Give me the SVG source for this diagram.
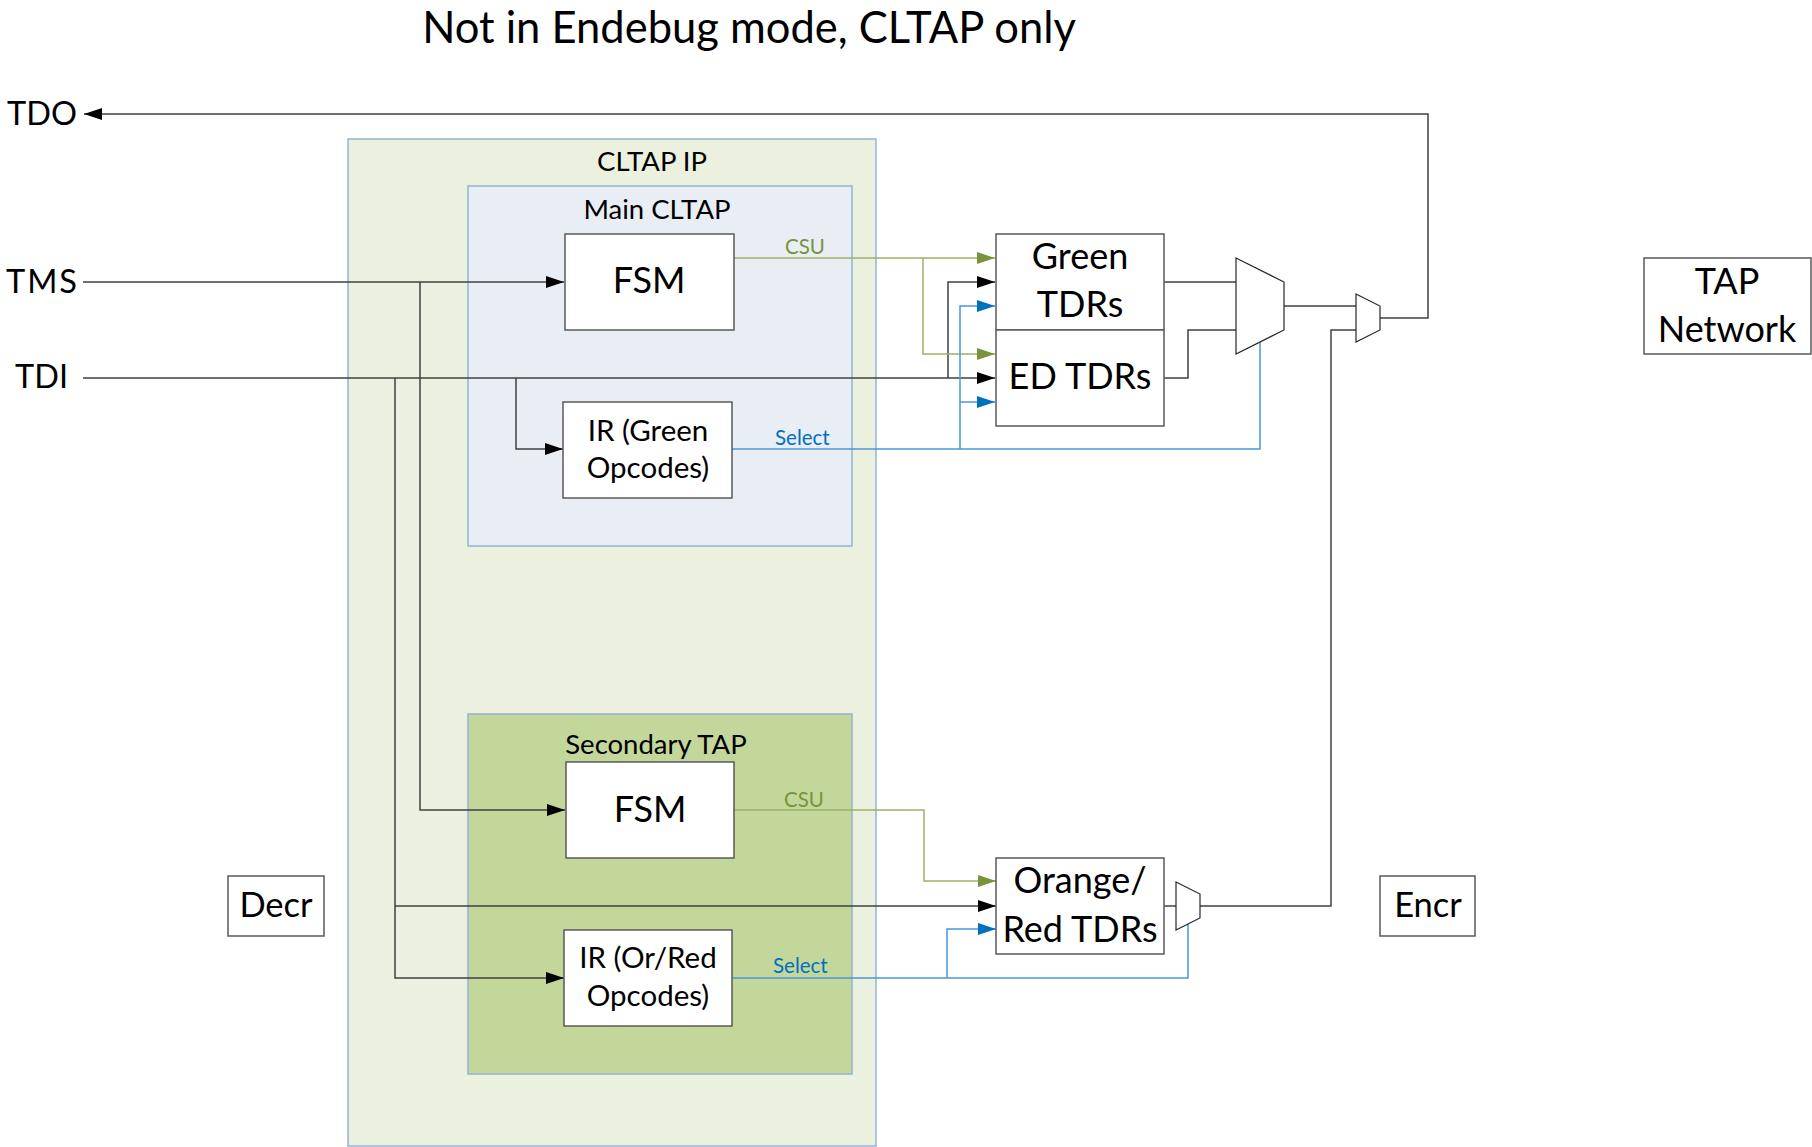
<svg xmlns="http://www.w3.org/2000/svg" width="1812" height="1147" viewBox="0 0 1812 1147">
<style>
  text { font-family: Lato, "Open Sans", "Liberation Sans", sans-serif; fill: #000; }
  .title { font-size: 43.5px; }
  .pin { font-size: 32.5px; }
  .big { font-size: 36px; }
  .mid { font-size: 34.5px; }
  .panel { font-size: 27.5px; }
  .ir { font-size: 29.5px; }
  .csu { font-size: 20.5px; fill: #77933C; }
  .sel { font-size: 20.5px; fill: #0070C0; }
  .box { fill: #fff; stroke: #595959; stroke-width: 1.5; }
  .outer { fill: #EBF1DE; stroke: #95B3D7; stroke-width: 1.5; }
  .mainp { fill: #E9EDF4; stroke: #95B3D7; stroke-width: 1.5; }
  .secp { fill: #C4D79B; stroke: #95B3D7; stroke-width: 1.5; }
  .mux { fill: #fff; stroke: #262626; stroke-width: 1.2; }
  .k { fill: none; stroke: #404040; stroke-width: 1.5; }
  .g { fill: none; stroke: #9BB265; stroke-width: 1.5; }
  .b { fill: none; stroke: #4A98DA; stroke-width: 1.5; }
  .ak { marker-end: url(#arrK); }
  .ag { marker-end: url(#arrG); }
  .ab { marker-end: url(#arrB); }
</style>
<defs>
  <marker id="arrK" viewBox="0 0 18 12" refX="18" refY="6" markerWidth="18" markerHeight="12" markerUnits="userSpaceOnUse" orient="auto">
    <path d="M0,0 L18,6 L0,12 z" fill="#000"/>
  </marker>
  <marker id="arrG" viewBox="0 0 18 12" refX="18" refY="6" markerWidth="18" markerHeight="12" markerUnits="userSpaceOnUse" orient="auto">
    <path d="M0,0 L18,6 L0,12 z" fill="#77933C"/>
  </marker>
  <marker id="arrB" viewBox="0 0 18 12" refX="18" refY="6" markerWidth="18" markerHeight="12" markerUnits="userSpaceOnUse" orient="auto">
    <path d="M0,0 L18,6 L0,12 z" fill="#0070C0"/>
  </marker>
</defs>

<rect width="1812" height="1147" fill="#fff"/>

<text class="title" x="749" y="43" text-anchor="middle">Not in Endebug mode, CLTAP only</text>

<g id="cltap-ip">
  <rect class="outer" x="348" y="139" width="528" height="1007"/>
  <text class="panel" x="652" y="171" text-anchor="middle">CLTAP IP</text>
</g>
<g id="main-cltap">
  <rect class="mainp" x="468" y="186" width="384" height="360"/>
  <text class="panel" x="657" y="219" text-anchor="middle">Main CLTAP</text>
</g>
<g id="secondary-tap">
  <rect class="secp" x="468" y="714" width="384" height="360"/>
  <text class="panel" x="656" y="754" text-anchor="middle">Secondary TAP</text>
</g>

<g id="pins">
  <text class="pin" x="7" y="125">TDO</text>
  <text class="pin" x="6" y="293" letter-spacing="2">TMS</text>
  <text class="pin" x="15" y="388">TDI</text>
</g>

<g id="connectors">
  <!-- TMS -->
  <path class="k ak" d="M83,282 H564"/>
  <path class="k ak" d="M420,282 V810 H565"/>
  <!-- TDI -->
  <path class="k ak" d="M83,378 H995"/>
  <path class="k ak" d="M948,378 V282 H995"/>
  <path class="k ak" d="M516,378 V449 H563"/>
  <path class="k ak" d="M395,378 V978 H564"/>
  <path class="k ak" d="M395,906 H996"/>
  <!-- CSU main -->
  <path class="g ag" d="M734,258 H995"/>
  <path class="g ag" d="M923,258 V354 H995"/>
  <!-- Select main -->
  <path class="b" d="M732,449 H1260 V342"/>
  <path class="b ab" d="M960,449 V306 H995"/>
  <path class="b ab" d="M960,402 H995"/>
  <!-- CSU secondary -->
  <path class="g ag" d="M734,810 H924 V881 H996"/>
  <!-- Select secondary -->
  <path class="b" d="M732,978 H1188 V924"/>
  <path class="b ab" d="M947,978 V929 H996"/>
  <!-- TDR outputs -->
  <path class="k" d="M1164,282 H1236"/>
  <path class="k" d="M1164,378 H1188 V330 H1236"/>
  <path class="k" d="M1284,306 H1356"/>
  <path class="k" d="M1164,906 H1176"/>
  <path class="k" d="M1200,906 H1331 V330 H1356"/>
  <!-- TDO -->
  <path class="k ak" d="M1380,318 H1428 V114 H84"/>
</g>

<g id="csu-main-label"><text class="csu" x="785" y="254">CSU</text></g>
<g id="select-main-label"><text class="sel" x="775" y="445">Select</text></g>
<g id="csu-sec-label"><text class="csu" x="784" y="807">CSU</text></g>
<g id="select-sec-label"><text class="sel" x="773" y="973">Select</text></g>

<g id="fsm-main">
  <rect class="box" x="565" y="234" width="169" height="96"/>
  <text class="big" x="649" y="293" text-anchor="middle">FSM</text>
</g>
<g id="ir-green">
  <rect class="box" x="563" y="402" width="169" height="96"/>
  <text class="ir" x="648" y="441" text-anchor="middle">IR (Green</text>
  <text class="ir" x="648" y="478" text-anchor="middle">Opcodes)</text>
</g>
<g id="fsm-secondary">
  <rect class="box" x="566" y="762" width="168" height="96"/>
  <text class="big" x="650" y="822" text-anchor="middle">FSM</text>
</g>
<g id="ir-orred">
  <rect class="box" x="564" y="930" width="168" height="96"/>
  <text class="ir" x="648" y="968" text-anchor="middle">IR (Or/Red</text>
  <text class="ir" x="648" y="1006" text-anchor="middle">Opcodes)</text>
</g>
<g id="green-tdrs">
  <rect class="box" x="996" y="234" width="168" height="96"/>
  <text class="big" x="1080" y="269" text-anchor="middle">Green</text>
  <text class="big" x="1080" y="317" text-anchor="middle">TDRs</text>
</g>
<g id="ed-tdrs">
  <rect class="box" x="996" y="330" width="168" height="96"/>
  <text class="big" x="1080" y="389" text-anchor="middle">ED TDRs</text>
</g>
<g id="orange-tdrs">
  <rect class="box" x="996" y="858" width="168" height="96"/>
  <text class="big" x="1080" y="893" text-anchor="middle">Orange/</text>
  <text class="big" x="1080" y="942" text-anchor="middle">Red TDRs</text>
</g>
<g id="mux-big">
  <polygon class="mux" points="1236,258 1284,282 1284,330 1236,354"/>
</g>
<g id="mux-top">
  <polygon class="mux" points="1356,294 1380,306 1380,330 1356,342"/>
</g>
<g id="mux-bottom">
  <polygon class="mux" points="1176,882 1200,894 1200,918 1176,930"/>
</g>
<g id="tap-network">
  <rect class="box" x="1644" y="258" width="167" height="96"/>
  <text class="big" x="1727" y="294" text-anchor="middle">TAP</text>
  <text class="big" x="1727" y="342" text-anchor="middle">Network</text>
</g>
<g id="decr">
  <rect class="box" x="228" y="876" width="96" height="60"/>
  <text class="mid" x="276" y="917" text-anchor="middle">Decr</text>
</g>
<g id="encr">
  <rect class="box" x="1380" y="876" width="95" height="60"/>
  <text class="mid" x="1428" y="917" text-anchor="middle">Encr</text>
</g>
</svg>
